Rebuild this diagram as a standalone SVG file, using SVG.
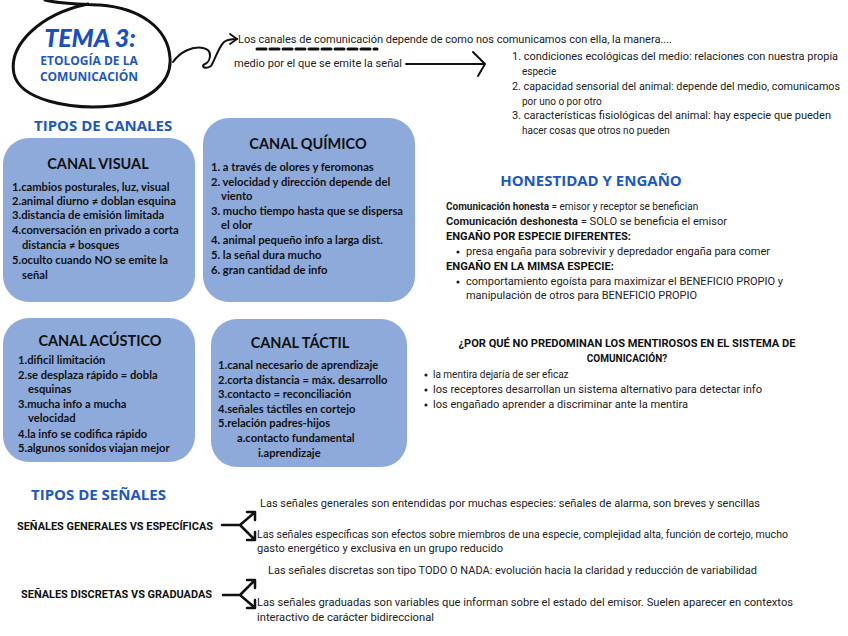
<svg xmlns="http://www.w3.org/2000/svg" width="848" height="636" viewBox="0 0 848 636">
<style>
.box{fill:#8eaadb;}
.bt{font-family:Lato,"Open Sans",sans-serif;font-weight:bold;font-size:11.2px;fill:#111;}
.bh{font-family:Lato,"Open Sans",sans-serif;font-weight:bold;font-size:14.5px;fill:#111;text-anchor:middle;}
.hd{font-family:"Open Sans",Lato,sans-serif;font-weight:bold;font-size:15px;fill:#1d57c2;}
.t{font-family:Roboto,"Liberation Sans",sans-serif;font-size:10px;fill:#222;}
.tb{font-family:Roboto,"Liberation Sans",sans-serif;font-size:10px;fill:#111;font-weight:bold;}
.ln{fill:none;stroke:#111;stroke-linecap:round;stroke-linejoin:round;}
</style>
<rect width="848" height="636" fill="#ffffff"/>

<g id="title">
<path class="ln" stroke-width="3" d="M 88 4 C 40 14, 8 45, 14 74 C 20 100, 70 110, 112 106 C 150 102, 172 82, 170 58 C 168 28, 140 8, 100 5 C 80 4, 60 4, 45 0"/>
<text x="90" y="47" text-anchor="middle" font-family="Lato,sans-serif" font-style="italic" font-weight="900" font-size="25" fill="#1a4fc0">TEMA 3:</text>
<text x="89" y="65" text-anchor="middle" font-family="'Open Sans',Lato,sans-serif" font-weight="bold" font-size="12" fill="#1d57c2">ETOLOGÍA DE LA</text>
<text x="89" y="81" text-anchor="middle" font-family="'Open Sans',Lato,sans-serif" font-weight="bold" font-size="12" fill="#1d57c2">COMUNICACIÓN</text>
</g>

<g id="connectors">
<path class="ln" stroke-width="2" d="M 173 62 C 180 52, 192 46, 203 48 C 214 50, 210 62, 205 64 C 200 66, 205 70, 211 66 C 215 60, 218 48, 224 42 C 228 39, 232 39, 237 39"/>
<path class="ln" stroke-width="1.8" d="M 230 34 L 237 39 L 230 44"/>
<path class="ln" stroke-width="3" stroke-dasharray="9,4" stroke-linecap="butt" d="M 257 49 L 377 49"/>
<path class="ln" stroke-width="1.8" d="M 406 64 L 484 64"/>
<path class="ln" stroke-width="2" d="M 473 52 L 485 64 L 478 76"/>
<path class="ln" stroke-width="2.5" d="M 222 525 L 240 525 L 254 513 M 247 512 L 255 512 L 255 520 M 240 525 L 254 539 M 255 532 L 255 540 L 247 540"/>
<path class="ln" stroke-width="2.5" d="M 223 595 L 240 595 L 254 581 M 247 580 L 255 580 L 255 588 M 240 595 L 254 607 M 255 600 L 255 608 L 247 608"/>
</g>

<g id="intro">
<text class="t" x="238" y="43" textLength="434" lengthAdjust="spacingAndGlyphs">Los canales de comunicación depende de como nos comunicamos con ella, la manera....</text>
<text class="t" x="234" y="67" textLength="168" lengthAdjust="spacingAndGlyphs">medio por el que se emite la señal</text>
</g>

<g id="factores">
<text class="t" x="512" y="60" textLength="326" lengthAdjust="spacingAndGlyphs">1. condiciones ecológicas del medio: relaciones con nuestra propia</text>
<text class="t" x="522" y="75">especie</text>
<text class="t" x="512" y="90" textLength="328" lengthAdjust="spacingAndGlyphs">2. capacidad sensorial del animal: depende del medio, comunicamos</text>
<text class="t" x="522" y="105">por uno o por otro</text>
<text class="t" x="512" y="119" textLength="319" lengthAdjust="spacingAndGlyphs">3. características fisiológicas del animal: hay especie que pueden</text>
<text class="t" x="522" y="134">hacer cosas que otros no pueden</text>
</g>

<text class="hd" x="34" y="131">TIPOS DE CANALES</text>

<g id="canal-visual">
<rect class="box" x="3" y="138" width="192" height="164" rx="26"/>
<text class="bh" x="98" y="169">CANAL VISUAL</text>
<text class="bt" x="12" y="191">1.cambios posturales, luz, visual</text>
<text class="bt" x="12" y="205">2.animal diurno ≠ doblan esquina</text>
<text class="bt" x="12" y="219">3.distancia de emisión limitada</text>
<text class="bt" x="12" y="234">4.conversación en privado a corta</text>
<text class="bt" x="22" y="249">distancia ≠ bosques</text>
<text class="bt" x="12" y="264">5.oculto cuando NO se emite la</text>
<text class="bt" x="22" y="279">señal</text>
</g>

<g id="canal-quimico">
<rect class="box" x="203" y="118" width="212" height="184" rx="26"/>
<text class="bh" x="308" y="149">CANAL QUÍMICO</text>
<text class="bt" x="211" y="171">1.  a través de olores y feromonas</text>
<text class="bt" x="211" y="186">2. velocidad y dirección depende del</text>
<text class="bt" x="221" y="200">viento</text>
<text class="bt" x="211" y="215">3. mucho tiempo hasta que se dispersa</text>
<text class="bt" x="221" y="229">el olor</text>
<text class="bt" x="211" y="244">4. animal pequeño info a larga dist.</text>
<text class="bt" x="211" y="259">5. la señal dura mucho</text>
<text class="bt" x="211" y="274">6. gran cantidad de info</text>
</g>

<g id="canal-acustico">
<rect class="box" x="3" y="318" width="192" height="144" rx="26"/>
<text class="bh" x="100" y="346">CANAL ACÚSTICO</text>
<text class="bt" x="18" y="364">1.dificil limitación</text>
<text class="bt" x="18" y="379">2.se desplaza rápido = dobla</text>
<text class="bt" x="28" y="393">esquinas</text>
<text class="bt" x="18" y="408">3.mucha info a mucha</text>
<text class="bt" x="28" y="422">velocidad</text>
<text class="bt" x="18" y="438">4.la info se codifica rápido</text>
<text class="bt" x="18" y="452">5.algunos sonidos viajan mejor</text>
</g>

<g id="canal-tactil">
<rect class="box" x="211" y="319" width="196" height="148" rx="26"/>
<text class="bh" x="300" y="348">CANAL TÁCTIL</text>
<text class="bt" x="218" y="369">1.canal necesario de aprendizaje</text>
<text class="bt" x="218" y="384">2.corta distancia = máx. desarrollo</text>
<text class="bt" x="218" y="398">3.contacto = reconciliación</text>
<text class="bt" x="218" y="413">4.señales táctiles en cortejo</text>
<text class="bt" x="218" y="427">5.relación padres-hijos</text>
<text class="bt" x="237" y="442">a.contacto fundamental</text>
<text class="bt" x="258" y="457">i.aprendizaje</text>
</g>

<g id="honestidad">
<text class="hd" x="591" y="186" text-anchor="middle">HONESTIDAD Y ENGAÑO</text>
<text class="t" x="446" y="210"><tspan font-weight="bold">Comunicación honesta</tspan> = emisor y receptor se benefician</text>
<text class="t" x="446" y="225" textLength="281" lengthAdjust="spacingAndGlyphs"><tspan font-weight="bold">Comunicación deshonesta</tspan> = SOLO se beneficia el emisor</text>
<text class="tb" x="446" y="240" textLength="185" lengthAdjust="spacingAndGlyphs">ENGAÑO POR ESPECIE DIFERENTES:</text>
<circle cx="458" cy="252" r="1.6" fill="#222"/>
<text class="t" x="466" y="255" textLength="304" lengthAdjust="spacingAndGlyphs">presa engaña para sobrevivir y depredador engaña para comer</text>
<text class="tb" x="446" y="270" textLength="168" lengthAdjust="spacingAndGlyphs">ENGAÑO EN LA MIMSA ESPECIE:</text>
<circle cx="458" cy="282" r="1.6" fill="#222"/>
<text class="t" x="466" y="285" textLength="317" lengthAdjust="spacingAndGlyphs">comportamiento egoísta para maximizar el BENEFICIO PROPIO y</text>
<text class="t" x="466" y="299" textLength="231" lengthAdjust="spacingAndGlyphs">manipulación de otros para BENEFICIO PROPIO</text>
</g>

<g id="mentirosos">
<text class="tb" x="627" y="347" text-anchor="middle" font-size="9.5" textLength="337" lengthAdjust="spacingAndGlyphs">¿POR QUÉ NO PREDOMINAN LOS MENTIROSOS EN EL SISTEMA DE</text>
<text class="tb" x="627" y="362" text-anchor="middle" font-size="9.5">COMUNICACIÓN?</text>
<circle cx="426" cy="375" r="1.6" fill="#222"/>
<text class="t" x="433" y="378">la mentira dejaría de ser eficaz</text>
<circle cx="426" cy="390" r="1.6" fill="#222"/>
<text class="t" x="433" y="393" textLength="329" lengthAdjust="spacingAndGlyphs">los receptores desarrollan un sistema alternativo para detectar info</text>
<circle cx="426" cy="405" r="1.6" fill="#222"/>
<text class="t" x="433" y="408" textLength="255" lengthAdjust="spacingAndGlyphs">los engañado aprender a discriminar ante la mentira</text>
</g>

<text class="hd" x="31" y="500">TIPOS DE SEÑALES</text>

<g id="generales">
<text class="tb" x="17" y="530" font-size="9" textLength="196" lengthAdjust="spacingAndGlyphs">SEÑALES GENERALES VS ESPECÍFICAS</text>
<text class="t" x="260" y="507" textLength="500" lengthAdjust="spacingAndGlyphs">Las señales generales son entendidas por muchas especies: señales de alarma, son breves y sencillas</text>
<text class="t" x="257" y="538" textLength="531" lengthAdjust="spacingAndGlyphs">Las señales específicas son efectos sobre miembros de una especie, complejidad alta, función de cortejo, mucho</text>
<text class="t" x="257" y="552" textLength="246" lengthAdjust="spacingAndGlyphs">gasto energético y exclusiva en un grupo reducido</text>
</g>

<g id="discretas">
<text class="tb" x="21" y="598" font-size="9" textLength="191" lengthAdjust="spacingAndGlyphs">SEÑALES DISCRETAS VS GRADUADAS</text>
<text class="t" x="268" y="574" textLength="489" lengthAdjust="spacingAndGlyphs">Las señales discretas son tipo TODO O NADA: evolución hacia la claridad y reducción de variabilidad</text>
<text class="t" x="257" y="606" textLength="536" lengthAdjust="spacingAndGlyphs">Las señales graduadas son variables que informan sobre el estado del emisor. Suelen aparecer en contextos</text>
<text class="t" x="257" y="621" textLength="177" lengthAdjust="spacingAndGlyphs">interactivo de carácter bidireccional</text>
</g>
</svg>
